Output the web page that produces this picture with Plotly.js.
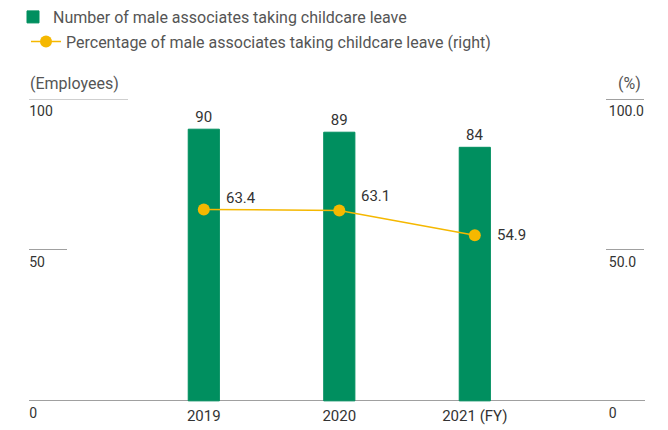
<!DOCTYPE html>
<html><head><meta charset="utf-8">
<script src="https://cdn.plot.ly/plotly-3.0.1.min.js"></script>
<style>html,body{margin:0;padding:0;background:#fff}</style>
</head><body><div id="chart" style="width:668px;height:430px"></div>
<script>
const years = ["2019", "2020", "2021 (FY)"];
const maleLeaveCount = [90, 89, 84];
const maleLeavePct = [63.4, 63.1, 54.9];
const leftTicks = [0, 50, 100];
const leftTickText = ["0", "50", "100"];
const rightTicks = [0, 50, 100];
const rightTickText = ["0", "50.0", "100.0"];

const FONT = "Roboto, 'Open Sans', sans-serif";
const GREEN = "#008f5f";
const YELLOW = "#f5b800";
const GREY = "#a0a0a0";
const Y_RANGE = [-7, 100];

const traces = [
  {
    type: "bar", x: years, y: maleLeaveCount,
    name: "Number of male associates taking childcare leave",
    marker: {color: GREEN, line: {color: GREEN, width: 1}},
    width: 0.23,
    text: maleLeaveCount.map(String), textposition: "outside",
    textfont: {family: FONT, size: 15, color: "#333"},
    cliponaxis: false, hoverinfo: "skip", legend: "legend"
  },
  {
    type: "scatter", x: years, y: maleLeavePct, yaxis: "y2",
    name: "Percentage of male associates taking childcare leave (right)",
    mode: "lines+markers",
    line: {color: YELLOW, width: 1.5},
    marker: {color: YELLOW, size: 12},
    cliponaxis: false, hoverinfo: "skip", legend: "legend2"
  }
];

// per-point label offsets for the percentage labels (style only)
const pctLabelShiftY = [11, 14, 0];

const pctLabels = years.map((yr, i) => ({
  text: maleLeavePct[i].toFixed(1), x: i, y: maleLeavePct[i], xref: "x", yref: "y2",
  xanchor: "left", yanchor: "middle", showarrow: false,
  xshift: 20, yshift: pctLabelShiftY[i],
  font: {family: FONT, size: 15, color: "#333"}
}));

const layout = {
  width: 668, height: 430,
  margin: {l: 29, r: 23, t: 99, b: 8},
  paper_bgcolor: "#fff", plot_bgcolor: "#fff",
  font: {family: FONT, size: 15, color: "#333"},
  showlegend: true,
  legend: {x: -16 / 616, xref: "paper", y: 1.002, yref: "container", yanchor: "top", xanchor: "left",
           font: {family: FONT, size: 16, color: "#555"}, bgcolor: "rgba(0,0,0,0)",
           tracegroupgap: 0, itemclick: false},
  legend2: {x: -3 / 616, xref: "paper", y: 0.943, yref: "container", yanchor: "top", xanchor: "left",
           font: {family: FONT, size: 16, color: "#555"}, bgcolor: "rgba(0,0,0,0)",
           itemclick: false},
  xaxis: {
    type: "category", range: [-1.29, 3.256],
    showline: false,
    ticks: "", showgrid: false, zeroline: false,
    tickfont: {family: FONT, size: 15, color: "#333"}, ticklabelstandoff: -17
  },
  yaxis: {
    range: Y_RANGE, tickvals: leftTicks, ticktext: leftTickText,
    ticks: "inside", ticklen: 38, tickcolor: GREY, tickwidth: 1,
    showgrid: false, showline: false,
    zeroline: true, zerolinecolor: GREY, zerolinewidth: 1,
    ticklabelposition: "inside", ticklabelshift: 12, ticklabelstandoff: -38,
    tickfont: {family: FONT, size: 14, color: "#333"}
  },
  yaxis2: {
    range: Y_RANGE, tickvals: rightTicks, ticktext: rightTickText,
    overlaying: "y", side: "right", anchor: "free", position: (605 - 29) / 616,
    ticks: "outside", ticklen: 38, tickcolor: GREY, tickwidth: 1,
    showgrid: false, zeroline: false, showline: false,
    ticklabelshift: 12, ticklabelstandoff: -38,
    tickfont: {family: FONT, size: 14, color: "#333"}
  },
  shapes: [
    {type: "line", xref: "paper", yref: "y", x0: 0, x1: 99 / 616, y0: 100, y1: 100,
     line: {color: GREY, width: 1}}
  ],
  annotations: [
    {text: "(Employees)", xref: "paper", yref: "y", x: 0, y: 100, xanchor: "left", yanchor: "bottom",
     showarrow: false, yshift: 4, xshift: -1, font: {family: FONT, size: 16, color: "#555"}},
    {text: "(%)", xref: "paper", yref: "y", x: (643 - 29) / 616, y: 100, xanchor: "right", yanchor: "bottom",
     showarrow: false, yshift: 4, font: {family: FONT, size: 16, color: "#555"}}
  ].concat(pctLabels)
};

Plotly.newPlot("chart", traces, layout, {displayModeBar: false, staticPlot: true});
</script>
</body></html>
